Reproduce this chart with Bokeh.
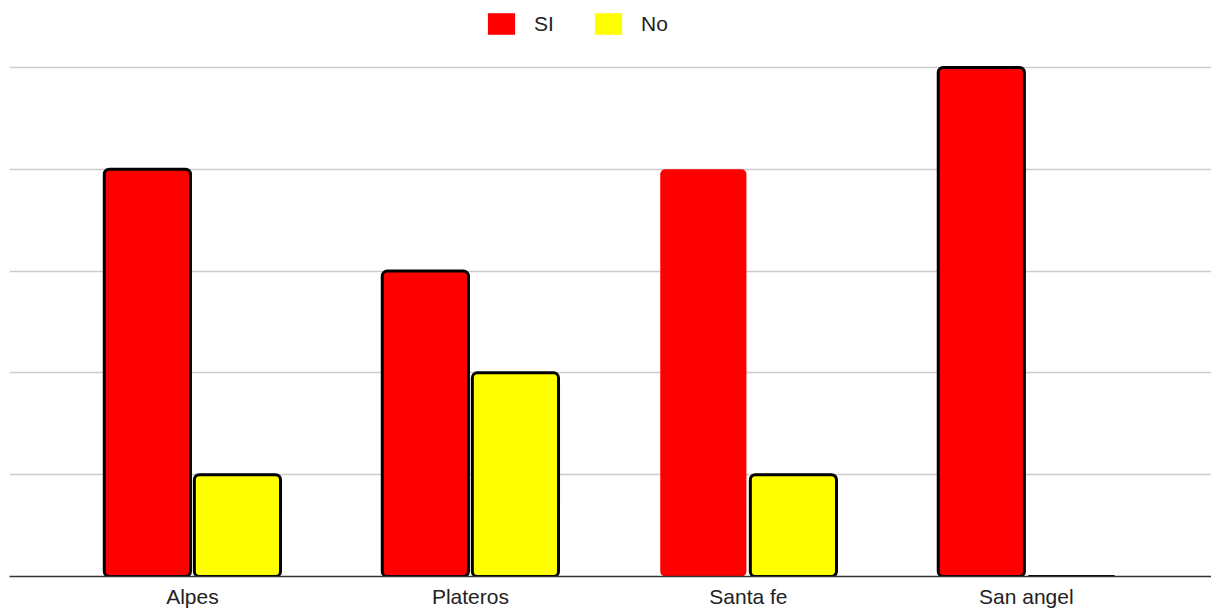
from bokeh.plotting import figure
from bokeh.models import ColumnDataSource, Range1d, FixedTicker, Legend, LegendItem
from bokeh.transform import dodge
from bokeh.embed import file_html
from bokeh.resources import INLINE

categories = ["Alpes", "Plateros", "Santa fe", "San angel"]
si_values = [4, 3, 4, 5]
no_values = [1, 2, 1, 0]
si_outline_alpha = [1, 1, 0, 1]
no_outline_alpha = [1, 1, 1, 1]
grid_values = [1, 2, 3, 4, 5]

FONT = "Liberation Sans"
RED = "#ff0000"
YELLOW = "#ffff00"

x_pos = list(range(len(categories)))
src = ColumnDataSource(dict(x=x_pos, si=si_values, no=no_values,
                            si_la=si_outline_alpha, no_la=no_outline_alpha))

# frame spans the whole top area so the legend can sit inside it
p = figure(width=1211, height=610,
           x_range=Range1d(-0.658, 3.666), y_range=Range1d(0, 5.657),
           output_backend="svg", toolbar_location=None,
           min_border_left=9, min_border_right=0,
           min_border_top=0, min_border_bottom=33)

p.vbar(x=dodge("x", -0.162, range=p.x_range), top="si", bottom=0, width=0.31, source=src,
       fill_color=RED, line_color="black", line_alpha="si_la", line_width=3, border_radius=5)
p.vbar(x=dodge("x", 0.162, range=p.x_range), top="no", bottom=0, width=0.31, source=src,
       fill_color=YELLOW, line_color="black", line_alpha="no_la", line_width=3, border_radius=5)

# zero-size proxies that only supply the outline-free legend swatches
leg_si = p.vbar(x="x", top=0, bottom=0, width=0, source=src, fill_color=RED, line_color=None)
leg_no = p.vbar(x="x", top=0, bottom=0, width=0, source=src, fill_color=YELLOW, line_color=None)

legend = Legend(items=[LegendItem(label="SI", renderers=[leg_si]),
                       LegendItem(label="No", renderers=[leg_no])],
                orientation="horizontal", location=(475, 539),
                glyph_width=34, glyph_height=27, label_standoff=16, spacing=37,
                padding=0, margin=0, border_line_color=None, background_fill_alpha=0,
                label_text_font=FONT, label_text_font_size="21px", label_text_color="#222222")
p.add_layout(legend, "center")

p.outline_line_color = None
p.yaxis.visible = False
p.xgrid.visible = False
p.ygrid.ticker = FixedTicker(ticks=grid_values)
p.ygrid.grid_line_color = "#cccccc"
p.ygrid.grid_line_width = 1.5

p.xaxis.ticker = FixedTicker(ticks=x_pos)
p.xaxis.major_label_overrides = {i: c for i, c in zip(x_pos, categories)}
p.xaxis.major_tick_line_color = None
p.xaxis.minor_tick_line_color = None
p.xaxis.major_tick_out = 0
p.xaxis.major_tick_in = 0
p.xaxis.minor_tick_out = 0
p.xaxis.axis_line_color = "#333333"
p.xaxis.axis_line_width = 1.5
p.xaxis.major_label_standoff = 8
p.xaxis.major_label_text_font = FONT
p.xaxis.major_label_text_font_size = "21px"
p.xaxis.major_label_text_color = "#222222"

open("out.html", "w").write(file_html(p, INLINE))
